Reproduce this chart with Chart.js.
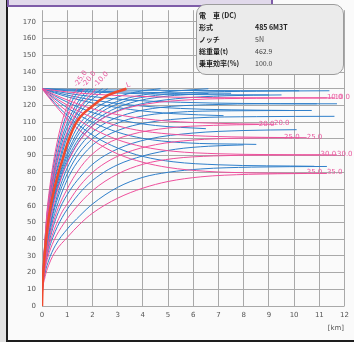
<!DOCTYPE html>
<html>
<head>
<meta charset="utf-8">
<script src="https://cdn.jsdelivr.net/npm/chart.js@4.4.1/dist/chart.umd.min.js"></script>
<style>
  html, body { margin: 0; padding: 0; }
  body { width: 354px; height: 342px; background: #e2e2e2; position: relative; overflow: hidden; }
  .panel { position: absolute; left: 6px; top: 0; width: 348px; height: 342px; box-sizing: border-box;
    background: #fafafa; border-left: 2px solid #1e1e1e; border-bottom: 2px solid #1e1e1e; }
  .tab { position: absolute; left: 7px; top: -10px; width: 266px; height: 17px; box-sizing: border-box;
    background: #e1d9eb; border: 2px solid #7e5ca8; }
  #chart { position: absolute; left: 0; top: 0; }
  .info { position: absolute; left: 196px; top: 4px; width: 148px; height: 71px; box-sizing: border-box;
    border: 1px solid #9c9c9c; border-radius: 10px; background: #ebebeb;
    font-family: "Noto Sans CJK JP", sans-serif; font-size: 7px; color: #222; }
  .info div { position: absolute; height: 10px; line-height: 10px; white-space: nowrap; }
  .info .key { left: 2px; font-weight: bold; }
  .info .val { left: 58px; color: #444; }
  .info .val.strong { font-weight: bold; color: #222; }
</style>
</head>
<body>
<div class="panel"></div>
<div class="tab"></div>
<canvas id="chart" width="354" height="342"></canvas>
<div class="info" id="info"></div>
<script>
// 勾配 (‰) ごとの加速曲線 [km, km/h]
const accelGrades = [-25, -22, -20, -15, -12, -10, -7, -5, 0, 1, 2, 3, 5, 7, 10, 12, 15, 17, 20, 22, 25, 27, 30, 33, 35];
const accelPaths = [
  [[0,0],[0.02,14],[0.06,26],[0.12,40],[0.19,55],[0.29,69],[0.42,83],[0.56,95],[0.72,106],[0.91,116],[1.13,124],[1.4,130]],
  [[0,0],[0.02,14],[0.06,26],[0.12,40],[0.2,55],[0.31,69],[0.44,82],[0.59,94],[0.77,105],[0.98,115],[1.24,124],[1.55,130]],
  [[0,0],[0.02,13],[0.06,25],[0.12,39],[0.2,54],[0.32,68],[0.46,81],[0.62,93],[0.8,104],[1.03,114],[1.32,123],[1.7,130]],
  [[0,0],[0.02,13],[0.06,25],[0.12,38],[0.21,53],[0.33,67],[0.48,81],[0.64,92],[0.84,103],[1.1,113],[1.42,122],[1.85,130]],
  [[0,0],[0.02,13],[0.06,24],[0.12,37],[0.22,53],[0.35,67],[0.5,80],[0.67,91],[0.88,102],[1.15,112],[1.52,122],[2.0,130]],
  [[0,0],[0.02,13],[0.06,24],[0.13,37],[0.23,53],[0.36,67],[0.52,80],[0.7,91],[0.92,101],[1.2,111],[1.6,121],[2.15,130]],
  [[0,0],[0.02,12],[0.06,23],[0.13,36],[0.23,52],[0.37,66],[0.54,79],[0.72,89],[0.9,99],[1.18,109],[1.58,119.5],[2.0,126],[2.4,130]],
  [[0,0],[0.02,12],[0.06,23],[0.13,36],[0.24,52],[0.38,66],[0.55,78],[0.74,88],[0.93,98],[1.22,108],[1.65,118.5],[2.1,125],[2.6,130]],
  [[0,0],[0.02,12],[0.06,22],[0.13,35],[0.25,51],[0.4,64],[0.6,77],[0.8,87],[1.0,97],[1.37,110],[2.03,120],[2.6,126],[3.35,130]],
  [[0,0],[0.02,12],[0.06,22],[0.13,35],[0.25,50],[0.41,64],[0.62,77],[0.83,87],[1.05,96],[1.45,108],[2.15,118.5],[3.0,125],[3.8,128.3],[4.7,130]],
  [[0,0],[0.02,12],[0.06,22],[0.14,35],[0.26,50],[0.42,63],[0.64,76],[0.86,86],[1.1,95],[1.52,106.5],[2.25,117],[3.2,123.5],[4.3,127],[5.4,128.8],[6.6,130]],
  [[0,0],[0.02,12],[0.06,22],[0.14,34],[0.26,49],[0.43,63],[0.66,76],[0.9,86],[1.16,95],[1.6,106],[2.35,116],[3.3,122.5],[4.5,126],[6,127.8],[8.5,128.5],[11.4,128.8]],
  [[0,0],[0.02,12],[0.06,21],[0.14,34],[0.27,49],[0.45,63],[0.7,76],[0.95,86],[1.25,95],[1.7,105],[2.5,115],[3.5,121.5],[4.8,125.3],[6.6,127.2]],
  [[0,0],[0.02,12],[0.06,21],[0.14,33],[0.28,49],[0.47,63],[0.74,76],[1.0,86],[1.32,95],[1.8,105],[2.65,114.5],[3.8,120.5],[5.3,124],[7.3,125.8],[9.5,126.3]],
  [[0,0],[0.02,11],[0.06,21],[0.15,33],[0.29,48],[0.5,63],[0.85,80],[1.15,90],[1.55,100],[2.15,109.5],[3.0,116.5],[4.2,121],[6,123.5],[8.5,124.3],[11.3,124.5]],
  [[0,0],[0.02,11],[0.06,21],[0.15,33],[0.3,47],[0.53,62],[0.9,79],[1.22,89],[1.68,99],[2.4,108.5],[3.4,115],[4.7,118.8],[6.5,120.4],[9,121],[11.7,121]],
  [[0,0],[0.02,11],[0.07,21],[0.16,33],[0.32,47],[0.57,62],[1.0,79],[1.36,89],[1.88,98.5],[2.65,107],[3.7,112.8],[5.2,115.8],[7.5,116.8],[10.7,117]],
  [[0,0],[0.02,11],[0.07,21],[0.17,32],[0.34,46],[0.6,60],[1.08,78],[1.5,88],[2.1,97.5],[3.0,105],[4.2,109.8],[6,112.5],[8.5,113.3],[11.6,113.5]],
  [[0,0],[0.02,11],[0.07,20],[0.18,32],[0.36,45],[0.65,59],[1.0,70],[1.3,78],[1.8,88],[2.5,96.5],[3.5,102.5],[5,106.5],[6.8,108.1],[8.6,108.6]],
  [[0,0],[0.02,10],[0.07,20],[0.19,31],[0.38,44],[0.7,58],[1.1,69],[1.5,77],[2.1,86],[3.0,94],[4.2,99.8],[6,103.5],[8,105],[10.1,105.5]],
  [[0,0],[0.02,10],[0.08,20],[0.2,31],[0.4,42],[0.75,55],[1.0,61],[1.4,70],[1.9,78.5],[2.5,85.5],[3.3,91.5],[4.5,96.5],[6,99.3],[7.8,100.4],[9.6,100.7]],
  [[0,0],[0.02,10],[0.08,19],[0.21,30],[0.43,41],[0.8,53],[1.2,62],[1.7,71],[2.3,78.5],[3.0,84.5],[4.0,89.8],[5.3,93.8],[6.6,95.6],[8,96.4]],
  [[0,0],[0.02,9],[0.09,19],[0.23,29],[0.47,39],[0.85,49],[1.3,58],[2.0,69],[3.0,79],[4.0,84.8],[5.2,88.2],[6.8,89.8],[8.8,90.3],[11.05,90.4]],
  [[0,0],[0.02,9],[0.1,18],[0.26,27],[0.52,36],[1.0,46],[1.5,54],[2.0,61],[3.0,71],[4.0,77],[5.0,80],[6.3,82],[8.3,83.1],[11.3,83.5]],
  [[0,0],[0.02,8],[0.1,16],[0.28,25],[0.55,33],[1.0,41],[1.5,49],[2.0,55.5],[3.0,64.5],[4.0,70.5],[5.0,74.5],[6.3,77.3],[8.2,78.8],[10.5,79.3]],
];

// 130km/h から上り勾配で均衡速度まで落ちる曲線
const decelGrades = [3, 5, 7, 10, 12, 15, 17, 20, 22, 25, 27, 30, 33, 35];
const decelPaths = [
  [[0,130],[1,129.7],[2.5,129.3],[5,129],[8,128.85],[10.2,128.8]],
  [[0,130],[1,129.2],[2,128.6],[3.5,128],[5,127.6],[7.5,127.3]],
  [[0,130],[1,128.8],[2,128],[3.5,127.2],[5.5,126.6],[9,126.3]],
  [[0,130],[0.5,129],[1,128.1],[2,126.8],[3.5,125.6],[5.5,124.9],[8,124.6],[11.6,124.5]],
  [[0,130],[0.5,128.6],[1,127.3],[2,125.3],[3.5,123.2],[5.5,121.9],[8,121.2],[10.9,121]],
  [[0,130],[0.5,128],[1,126.2],[2,123.3],[3.5,120.3],[5.5,118.2],[7.5,117.4],[9.8,117]],
  [[0,130],[0.5,127.5],[1,125.2],[2,121.5],[3.5,117.6],[5.2,115.1],[7.2,113.9]],
  [[0,130],[0.5,126.5],[1,123.3],[2,118],[3,114.5],[4.5,111.3],[6.5,109.5],[9.2,108.7]],
  [[0,130],[0.5,125.8],[1,122],[2,115.8],[3,111.6],[4.5,108],[6.5,106.1]],
  [[0,130],[0.5,124.8],[1,120.2],[2,112.8],[3,107.8],[4,104.7],[5.5,102.4],[7.5,101.2],[10.5,100.7]],
  [[0,130],[0.5,124],[1,118.6],[2,110],[3,104],[4,100.3],[5.5,97.8],[8.5,96.7]],
  [[0,130],[0.5,122.8],[1,116.4],[2,106.3],[3,99.5],[4,95.3],[5.2,92.6],[7,91.1],[9,90.6],[11.7,90.4]],
  [[0,130],[0.5,121.5],[1,114],[2,102.3],[3,94.5],[4,89.5],[5.2,86.3],[7,84.5],[10.8,83.6]],
  [[0,130],[0.5,120.5],[1,112],[1.5,105],[2,99.3],[3,91],[4,86],[5,82.9],[6.5,80.6],[8.5,79.6],[11.3,79.3]],
];

// ピンクで描いてラベルを付ける勾配
const pinkGrades = [-25, -20, -10, 10, 20, 25, 30, 35];

const infoTitle = '電　車 (DC)';
const infoKeys = ['形式', 'ノッチ', '総重量(t)', '乗車効率(%)'];
const infoValues = ['485 6M3T', '5N', '462.9', '100.0'];

const PINK = '#ee509c';
const BLUE = '#2f7fca';
const RED = '#ef4a2e';

const toPoints = (path) => path.map(([x, y]) => ({ x, y }));

const makeLine = (path, color, width) => ({
  data: toPoints(path),
  borderColor: color,
  borderWidth: width,
  pointRadius: 0,
  fill: false,
  cubicInterpolationMode: 'monotone',
});

// 先頭の dataset が一番上に描かれる
const datasets = [];
const levelIdx = accelGrades.indexOf(0);
const level = makeLine(accelPaths[levelIdx], RED, 2.5);
level.endLabel = 'L';
level.tilted = true;
datasets.push(level);

accelGrades.forEach((g, i) => {
  if (!pinkGrades.includes(g)) return;
  const ds = makeLine(accelPaths[i], PINK, 1);
  ds.endLabel = g.toFixed(1);
  ds.tilted = g < 0;
  datasets.push(ds);
});
decelGrades.forEach((g, i) => {
  if (!pinkGrades.includes(g)) return;
  const ds = makeLine(decelPaths[i], PINK, 1);
  ds.endLabel = g.toFixed(1);
  datasets.push(ds);
});
accelGrades.forEach((g, i) => {
  if (g === 0 || pinkGrades.includes(g)) return;
  datasets.push(makeLine(accelPaths[i], BLUE, 1));
});
decelGrades.forEach((g, i) => {
  if (pinkGrades.includes(g)) return;
  datasets.push(makeLine(decelPaths[i], BLUE, 1));
});

const curveLabels = {
  id: 'curveLabels',
  afterDatasetsDraw(chart) {
    const { ctx } = chart;
    ctx.save();
    ctx.font = '7px "DejaVu Sans"';
    ctx.fillStyle = '#ea5aa0';
    ctx.textBaseline = 'alphabetic';
    chart.data.datasets.forEach((ds, i) => {
      if (!ds.endLabel) return;
      const pts = chart.getDatasetMeta(i).data;
      const end = pts[pts.length - 1];
      const prev = pts[pts.length - 2];
      ctx.save();
      ctx.translate(end.x, end.y);
      if (ds.tilted) {
        ctx.rotate(Math.atan2(end.y - prev.y, end.x - prev.x));
        ctx.fillText(ds.endLabel, 1, -1);
      } else {
        ctx.fillText(ds.endLabel, 0, 1);
      }
      ctx.restore();
    });
    ctx.fillStyle = '#555';
    ctx.textAlign = 'right';
    ctx.fillText('[km]', 344, 329.5);
    ctx.restore();
  },
};

const tickFont = { family: 'DejaVu Sans', size: 7 };

new Chart(document.getElementById('chart'), {
  type: 'line',
  data: { datasets },
  options: {
    responsive: false,
    animation: false,
    events: [],
    layout: { padding: { left: 0, right: 9, top: 8, bottom: 0 } },
    plugins: { legend: { display: false }, tooltip: { enabled: false } },
    scales: {
      x: {
        type: 'linear',
        min: 0,
        max: 12,
        afterFit: (scale) => { scale.height = 36; },
        border: { display: false },
        grid: { color: '#a9a9a9', lineWidth: 1, drawTicks: false },
        ticks: { stepSize: 1, autoSkip: false, maxRotation: 0, padding: 5, color: '#555', font: tickFont },
      },
      y: {
        type: 'linear',
        min: 0,
        max: 177,
        afterFit: (scale) => { scale.width = 42; },
        afterBuildTicks: (scale) => { scale.ticks = scale.ticks.filter((t) => t.value <= 170); },
        border: { display: false },
        grid: { color: '#a9a9a9', lineWidth: 1, drawTicks: false },
        ticks: { stepSize: 10, autoSkip: false, padding: 6, color: '#555', font: tickFont },
      },
    },
  },
  plugins: [curveLabels],
});

// 諸元ボックス
const info = document.getElementById('info');
const rowTops = [5, 16.5, 28.5, 41, 53];
const addCell = (cls, text, top) => {
  const el = document.createElement('div');
  el.className = cls;
  el.style.top = `${top}px`;
  el.textContent = text;
  info.appendChild(el);
};
addCell('key', infoTitle, rowTops[0]);
infoKeys.forEach((k, i) => {
  addCell('key', k, rowTops[i + 1]);
  addCell(i === 0 ? 'val strong' : 'val', infoValues[i], rowTops[i + 1]);
});
</script>
</body>
</html>
